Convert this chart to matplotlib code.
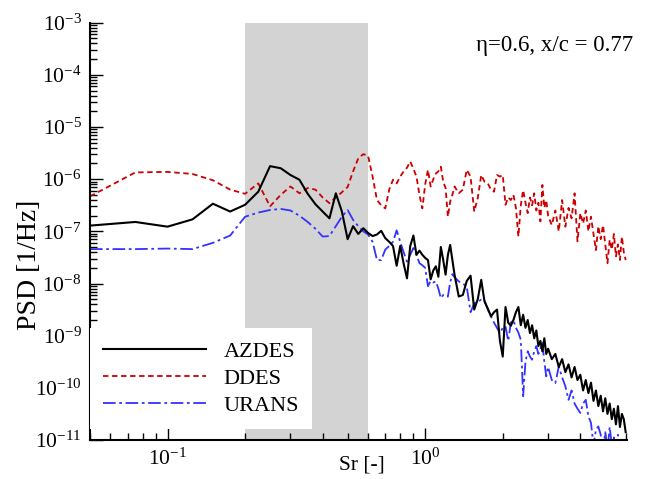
import numpy as np
import matplotlib
matplotlib.use("Agg")
from matplotlib import pyplot as plt
from matplotlib.ticker import LogLocator, FixedLocator, NullFormatter

plt.rcParams['font.family'] = ['Liberation Serif', 'DejaVu Serif']
plt.rcParams['mathtext.fontset'] = 'custom'
plt.rcParams['mathtext.rm'] = 'Liberation Serif'
plt.rcParams['mathtext.it'] = 'Liberation Serif:italic'

# Strouhal number bins
sr_low = [0.05, 0.075, 0.1, 0.125, 0.15, 0.175, 0.2, 0.225, 0.25, 0.275,
          0.3, 0.325, 0.35, 0.375, 0.4, 0.425, 0.45, 0.475, 0.5, 0.525,
          0.55, 0.575, 0.6, 0.625, 0.65, 0.675, 0.7, 0.725, 0.75, 0.775,
          0.8, 0.825, 0.85, 0.875, 0.9, 0.925, 0.95, 0.975, 1.0, 1.025,
          1.05, 1.075, 1.1, 1.125, 1.15, 1.175, 1.2, 1.225, 1.25, 1.275, 1.3]
sr_mid = [1.35, 1.4, 1.45, 1.5, 1.55, 1.6, 1.65, 1.7, 1.75, 1.8,
          1.85, 1.9, 1.95, 2.0, 2.05, 2.1, 2.15, 2.2, 2.25, 2.3,
          2.35, 2.4, 2.45, 2.5, 2.55, 2.6, 2.65, 2.7, 2.75, 2.8,
          2.85, 2.9, 2.95, 3.0]
sr_high = [3.1, 3.2, 3.3, 3.4, 3.5, 3.6, 3.7, 3.8, 3.9, 4.0,
           4.1, 4.2, 4.3, 4.4, 4.5, 4.6, 4.7, 4.8, 4.9, 5.0,
           5.1, 5.2, 5.3, 5.4, 5.5, 5.6, 5.7, 5.8, 5.9, 6.0]

# log10(PSD) values
azdes_low = [-6.89, -6.82, -6.91, -6.77, -6.47, -6.62, -6.49, -6.24, -5.75, -5.79,
             -5.92, -6.01, -6.28, -6.48, -6.62, -6.75, -6.27, -6.62, -7.15, -6.90,
             -7.05, -6.94, -7.03, -7.09, -7.06, -6.99, -7.13, -7.20, -7.28, -7.66,
             -7.28, -7.62, -7.90, -7.28, -7.08, -7.45, -7.37, -7.45, -7.51, -7.55,
             -7.92, -7.75, -7.67, -7.87, -7.30, -7.55, -7.83, -7.45, -7.26, -7.55, -7.83]
azdes_mid = [-8.25, -8.22, -7.95, -7.85, -8.50, -8.30, -7.93, -8.35, -8.48, -8.63,
             -8.55, -8.50, -9.10, -9.40, -8.45, -8.75, -8.81, -8.70, -8.55, -8.45,
             -8.80, -8.60, -8.85, -8.70, -8.95, -8.80, -9.05, -8.90, -9.20, -9.10,
             -9.30, -9.05, -9.35, -9.25]
azdes_high = [-9.45, -9.35, -9.60, -9.45, -9.70, -9.55, -9.80, -9.60, -9.85, -9.75,
              -10.05, -9.85, -10.10, -9.90, -10.25, -10.05, -10.35, -10.15, -10.45, -10.20,
              -10.50, -10.30, -10.60, -10.40, -10.70, -10.35, -10.75, -10.50, -10.60, -10.85]

ddes_low = [-6.33, -5.87, -5.86, -5.90, -6.02, -6.20, -6.28, -6.08, -6.52, -6.30,
            -6.14, -6.27, -6.17, -6.20, -6.35, -6.46, -6.35, -6.25, -6.15, -5.85,
            -5.60, -5.52, -5.55, -5.95, -6.40, -6.50, -6.56, -6.20, -6.01, -6.08,
            -5.95, -5.85, -5.78, -5.66, -5.80, -5.95, -6.30, -6.56, -6.10, -5.82,
            -6.14, -6.00, -5.89, -5.85, -5.76, -6.05, -6.17, -6.72, -6.43, -6.30, -6.14]
ddes_mid = [-6.27, -6.20, -5.82, -5.95, -6.62, -6.36, -5.92, -6.05, -6.08, -6.20,
            -6.24, -5.92, -5.95, -5.92, -6.49, -6.35, -6.40, -6.30, -6.55, -7.10,
            -6.50, -6.21, -6.45, -6.65, -6.35, -6.50, -6.27, -6.60, -6.45, -6.81,
            -6.11, -6.55, -6.40, -6.70]
ddes_high = [-6.88, -6.60, -7.00, -6.40, -6.91, -6.55, -6.75, -6.27, -7.19, -6.65,
             -6.85, -6.60, -7.00, -6.72, -7.05, -7.36, -6.90, -7.15, -6.88, -7.25,
             -7.61, -7.16, -7.35, -7.05, -7.48, -7.25, -7.55, -7.10, -7.40, -7.55]

urans_low = [-7.34, -7.34, -7.33, -7.34, -7.22, -7.08, -6.72, -6.64, -6.59, -6.57,
             -6.60, -6.70, -6.82, -6.95, -7.10, -7.09, -6.90, -6.72, -6.59, -6.78,
             -6.90, -7.00, -7.06, -7.20, -7.55, -7.55, -7.35, -7.28, -7.20, -6.98,
             -7.20, -7.40, -7.58, -7.45, -7.32, -7.45, -7.61, -7.65, -7.70, -8.05,
             -7.95, -7.98, -7.96, -8.10, -8.28, -8.22, -8.25, -8.25, -7.98, -7.82, -7.88]
urans_mid = [-7.96, -8.00, -8.06, -8.55, -8.38, -8.35, -8.31, -8.32, -8.50, -8.63,
             -8.75, -8.85, -8.95, -8.85, -8.82, -9.10, -8.75, -8.70, -8.85, -8.94,
             -9.08, -10.16, -9.50, -9.30, -9.40, -9.46, -9.30, -9.20, -9.35, -9.25,
             -9.14, -9.50, -9.78, -9.60]
urans_high = [-9.85, -9.91, -9.59, -9.80, -9.97, -10.23, -10.05, -10.30, -10.40, -10.48,
              -10.30, -10.23, -10.55, -10.67, -11.10, -10.80, -10.74, -10.90, -11.20, -10.85,
              -11.20, -10.75, -11.10, -10.95, -11.30, -10.90, -11.20, -11.00, -11.30, -11.10]

x_major = [0.1, 1.0]
y_major = [1e-11, 1e-10, 1e-9, 1e-8, 1e-7, 1e-6, 1e-5, 1e-4, 1e-3]

sr = np.array(sr_low + sr_mid + sr_high)
azdes = 10.0 ** np.array(azdes_low + azdes_mid + azdes_high)
ddes = 10.0 ** np.array(ddes_low + ddes_mid + ddes_high)
urans = 10.0 ** np.array(urans_low + urans_mid + urans_high)

fig = plt.figure(figsize=(6.51, 4.79), dpi=100)
ax = fig.add_axes([0.1382, 0.0814, 0.8249, 0.8712])

ax.axvspan(0.2, 0.6, color='#d3d3d3', lw=0, zorder=0)

ax.plot(sr, azdes, color='black', lw=1.5, label='AZDES', zorder=3)
ax.plot(sr, ddes, color='#cc0000', lw=1.3, ls=(0, (3, 2)), label='DDES', zorder=2)
ax.plot(sr, urans, color='#3333ff', lw=1.3, ls=(0, (7, 2, 1.5, 2)), label='URANS', zorder=2)

ax.set_xscale('log')
ax.set_yscale('log')
ax.set_xlim(0.05, 6.07)
ax.set_ylim(1e-11, 1e-3)

ax.xaxis.set_major_locator(FixedLocator(x_major))
ax.xaxis.set_minor_locator(LogLocator(base=10, subs=np.arange(2, 10), numticks=20))
ax.xaxis.set_minor_formatter(NullFormatter())
ax.yaxis.set_major_locator(FixedLocator(y_major))
ax.yaxis.set_minor_locator(LogLocator(base=10, subs=np.arange(2, 10), numticks=20))
ax.yaxis.set_minor_formatter(NullFormatter())

ax.spines['top'].set_visible(False)
ax.spines['right'].set_visible(False)
for s in ['left', 'bottom']:
    ax.spines[s].set_linewidth(1.5)
ax.tick_params(which='both', direction='in', top=False, right=False, labelsize=15.5, width=1)
ax.tick_params(which='major', length=9, pad=6)
ax.tick_params(which='minor', length=5)

ax.set_xlabel('Sr [-]', fontsize=15.5)
ax.xaxis.label.set_va('center')
ax.xaxis.set_label_coords(0.5065, -0.06)
ax.set_ylabel('PSD [1/Hz]', fontsize=20)
ax.yaxis.label.set_va('center')
ax.yaxis.set_label_coords(-0.113, 0.42)

fig.text(0.972, 0.906, '\u03b7=0.6, x/c = 0.77', ha='right', va='center', fontsize=16.5)

leg = ax.legend(loc='lower left', bbox_to_anchor=(0.0, 0.026), borderaxespad=0,
                fontsize=16, handlelength=4.6, handletextpad=0.8, labelspacing=0.28,
                frameon=True, fancybox=False, framealpha=1, borderpad=0.6)
leg.get_frame().set_edgecolor('none')
leg.get_frame().set_facecolor('white')

fig.savefig('out.png', dpi=100)
